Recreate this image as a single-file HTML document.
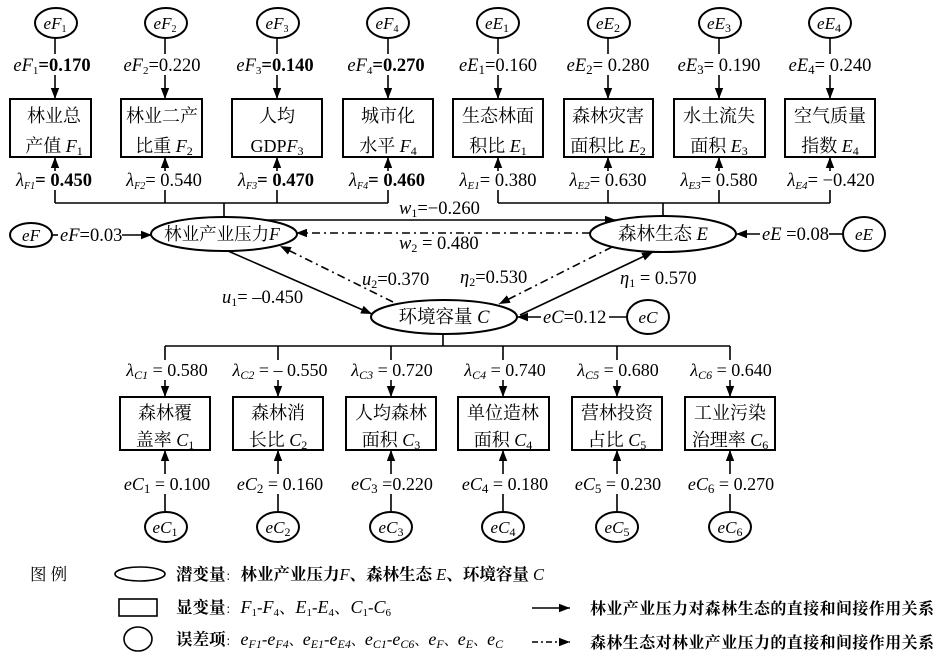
<!DOCTYPE html>
<html><head><meta charset="utf-8"><style>
html,body{margin:0;padding:0;background:#fff;}
svg{display:block;}
text{font-family:"Liberation Serif","Noto Serif CJK SC",serif;fill:#000;}
</style></head><body>
<svg width="941" height="653" viewBox="0 0 941 653" xmlns="http://www.w3.org/2000/svg">
<defs>
<marker id="a" markerUnits="userSpaceOnUse" markerWidth="12" markerHeight="10" refX="11" refY="5" orient="auto"><path d="M0,0.8 L11,5 L0,9.2 z" fill="#000"/></marker>
</defs>
<g stroke="#000" stroke-width="1.6" fill="none">
<line x1="55" y1="38" x2="55" y2="54"/><line x1="165" y1="38" x2="165" y2="54"/><line x1="277" y1="38" x2="277" y2="54"/><line x1="388" y1="38" x2="388" y2="54"/>
<line x1="498" y1="38" x2="498" y2="54"/><line x1="608" y1="38" x2="608" y2="54"/><line x1="719" y1="38" x2="719" y2="54"/><line x1="830" y1="38" x2="830" y2="54"/>
<g marker-end="url(#a)">
<line x1="55" y1="75" x2="55" y2="99"/><line x1="165" y1="75" x2="165" y2="99"/><line x1="277" y1="75" x2="277" y2="99"/><line x1="388" y1="75" x2="388" y2="99"/>
<line x1="498" y1="75" x2="498" y2="99"/><line x1="608" y1="75" x2="608" y2="99"/><line x1="719" y1="75" x2="719" y2="99"/><line x1="830" y1="75" x2="830" y2="99"/>
<line x1="55" y1="171" x2="55" y2="157"/><line x1="165" y1="171" x2="165" y2="157"/><line x1="277" y1="171" x2="277" y2="157"/><line x1="388" y1="171" x2="388" y2="157"/>
<line x1="498" y1="171" x2="498" y2="157"/><line x1="608" y1="171" x2="608" y2="157"/><line x1="719" y1="171" x2="719" y2="157"/><line x1="830" y1="171" x2="830" y2="157"/>
</g>
<path d="M55,190 V203 M165,190 V203 M277,190 V203 M388,190 V203 M55,203 H388 M224,203 V218"/>
<path d="M498,190 V203 M608,190 V203 M719,190 V203 M830,190 V203 M498,203 H830 M663,203 V217"/>
<line x1="266" y1="220" x2="616" y2="220" marker-end="url(#a)"/>
<line x1="590" y1="233" x2="296" y2="233" stroke-dasharray="8 4 2 4" marker-end="url(#a)"/>
<line x1="228" y1="251" x2="372" y2="314" marker-end="url(#a)"/>
<line x1="393" y1="302" x2="280" y2="246" stroke-dasharray="8 4 2 4" marker-end="url(#a)"/>
<line x1="612" y1="247" x2="499" y2="304" stroke-dasharray="8 4 2 4" marker-end="url(#a)"/>
<line x1="520" y1="315" x2="653" y2="252" marker-end="url(#a)"/>
<line x1="52" y1="235" x2="58" y2="235"/>
<line x1="122" y1="235" x2="152" y2="235" marker-end="url(#a)"/>
<line x1="760" y1="234" x2="736" y2="234" marker-end="url(#a)"/>
<line x1="829" y1="234" x2="843" y2="234"/>
<line x1="541" y1="317" x2="517" y2="317" marker-end="url(#a)"/>
<line x1="609" y1="317" x2="627" y2="317"/>
<path d="M443,333 V346 M165,346 H730 M165,346 V360 M278,346 V360 M391,346 V360 M503,346 V360 M617,346 V360 M730,346 V360"/>
<g marker-end="url(#a)">
<line x1="165" y1="380" x2="165" y2="397"/><line x1="278" y1="380" x2="278" y2="397"/><line x1="391" y1="380" x2="391" y2="397"/>
<line x1="503" y1="380" x2="503" y2="397"/><line x1="617" y1="380" x2="617" y2="397"/><line x1="730" y1="380" x2="730" y2="397"/>
<line x1="165" y1="474" x2="165" y2="450"/><line x1="278" y1="474" x2="278" y2="450"/><line x1="391" y1="474" x2="391" y2="450"/>
<line x1="503" y1="474" x2="503" y2="450"/><line x1="617" y1="474" x2="617" y2="450"/><line x1="730" y1="474" x2="730" y2="450"/>
</g>
<path d="M165,494 V512 M278,494 V512 M391,494 V512 M503,494 V512 M617,494 V512 M730,494 V512"/>
<line x1="532" y1="608" x2="570" y2="608" marker-end="url(#a)"/>
<line x1="532" y1="642" x2="570" y2="642" stroke-dasharray="6 3 2 3" marker-end="url(#a)"/>
</g>

<g stroke="#000" stroke-width="2" fill="#fff">
<ellipse cx="56" cy="23" rx="21" ry="15"/><ellipse cx="166" cy="23" rx="21" ry="15"/><ellipse cx="278" cy="23" rx="21" ry="15"/><ellipse cx="388" cy="23" rx="21" ry="15"/>
<ellipse cx="498" cy="23" rx="21" ry="15"/><ellipse cx="609" cy="23" rx="21" ry="15"/><ellipse cx="720" cy="23" rx="21" ry="15"/><ellipse cx="830" cy="23" rx="21" ry="15"/>
<rect x="10" y="99" width="81" height="58"/><rect x="121" y="99" width="81" height="58"/><rect x="232" y="99" width="90" height="58"/><rect x="343" y="99" width="90" height="58"/>
<rect x="453" y="99" width="90" height="58"/><rect x="564" y="99" width="89" height="58"/><rect x="674" y="99" width="91" height="58"/><rect x="785" y="99" width="90" height="58"/>
<ellipse cx="224" cy="234" rx="73" ry="17"/>
<ellipse cx="663" cy="234" rx="73" ry="18"/>
<ellipse cx="444" cy="317" rx="73" ry="17"/>
<ellipse cx="31" cy="235" rx="21" ry="12"/>
<ellipse cx="864" cy="234" rx="21" ry="17"/>
<ellipse cx="648" cy="317" rx="21" ry="17"/>
<rect x="120" y="397" width="90" height="53"/><rect x="233" y="397" width="90" height="53"/><rect x="346" y="397" width="90" height="53"/>
<rect x="458" y="397" width="91" height="53"/><rect x="572" y="397" width="90" height="53"/><rect x="685" y="397" width="90" height="53"/>
<ellipse cx="166" cy="527" rx="21" ry="15"/><ellipse cx="278" cy="527" rx="21" ry="15"/><ellipse cx="391" cy="527" rx="21" ry="15"/>
<ellipse cx="503" cy="527" rx="21" ry="15"/><ellipse cx="617" cy="527" rx="21" ry="15"/><ellipse cx="730" cy="527" rx="21" ry="15"/>
<ellipse cx="140" cy="574" rx="25" ry="7" stroke-width="1.6"/>
<rect x="119" y="599" width="38" height="17" stroke-width="1.6"/>
<ellipse cx="138" cy="639" rx="14" ry="12" stroke-width="1.6"/>
</g>

<g font-size="17" text-anchor="middle">
<text x="55" y="29"><tspan font-style="italic">eF</tspan><tspan font-size="10" dy="3">1</tspan></text>
<text x="165" y="29"><tspan font-style="italic">eF</tspan><tspan font-size="10" dy="3">2</tspan></text>
<text x="277" y="29"><tspan font-style="italic">eF</tspan><tspan font-size="10" dy="3">3</tspan></text>
<text x="387" y="29"><tspan font-style="italic">eF</tspan><tspan font-size="10" dy="3">4</tspan></text>
<text x="497" y="29"><tspan font-style="italic">eE</tspan><tspan font-size="12" dy="3">1</tspan></text>
<text x="608" y="29"><tspan font-style="italic">eE</tspan><tspan font-size="12" dy="3">2</tspan></text>
<text x="719" y="29"><tspan font-style="italic">eE</tspan><tspan font-size="12" dy="3">3</tspan></text>
<text x="829" y="29"><tspan font-style="italic">eE</tspan><tspan font-size="12" dy="3">4</tspan></text>
</g>
<g font-size="18.5" text-anchor="middle">
<text x="52" y="71"><tspan font-style="italic">eF</tspan><tspan font-size="11" dy="3">1</tspan><tspan dy="-3" font-weight="bold">=0.170</tspan></text>
<text x="162" y="71"><tspan font-style="italic">eF</tspan><tspan font-size="11" dy="3">2</tspan><tspan dy="-3">=0.220</tspan></text>
<text x="275" y="71"><tspan font-style="italic">eF</tspan><tspan font-size="11" dy="3">3</tspan><tspan dy="-3" font-weight="bold">=0.140</tspan></text>
<text x="386" y="71"><tspan font-style="italic">eF</tspan><tspan font-size="11" dy="3">4</tspan><tspan dy="-3" font-weight="bold">=0.270</tspan></text>
<text x="498" y="71"><tspan font-style="italic">eE</tspan><tspan font-size="13" dy="3">1</tspan><tspan dy="-3">=0.160</tspan></text>
<text x="608" y="71"><tspan font-style="italic">eE</tspan><tspan font-size="13" dy="3">2</tspan><tspan dy="-3">= 0.280</tspan></text>
<text x="719" y="71"><tspan font-style="italic">eE</tspan><tspan font-size="13" dy="3">3</tspan><tspan dy="-3">= 0.190</tspan></text>
<text x="830" y="71"><tspan font-style="italic">eE</tspan><tspan font-size="13" dy="3">4</tspan><tspan dy="-3">= 0.240</tspan></text>

<text x="54" y="186"><tspan font-style="italic">λ</tspan><tspan font-size="10" font-style="italic" dy="3">F1</tspan><tspan dy="-3" font-weight="bold">= 0.450</tspan></text>
<text x="164" y="186"><tspan font-style="italic">λ</tspan><tspan font-size="10" font-style="italic" dy="3">F2</tspan><tspan dy="-3">= 0.540</tspan></text>
<text x="276" y="186"><tspan font-style="italic">λ</tspan><tspan font-size="10" font-style="italic" dy="3">F3</tspan><tspan dy="-3" font-weight="bold">= 0.470</tspan></text>
<text x="387" y="186"><tspan font-style="italic">λ</tspan><tspan font-size="10" font-style="italic" dy="3">F4</tspan><tspan dy="-3" font-weight="bold">= 0.460</tspan></text>
<text x="498" y="186"><tspan font-style="italic">λ</tspan><tspan font-size="11" font-style="italic" dy="3">E1</tspan><tspan dy="-3">= 0.380</tspan></text>
<text x="608" y="186"><tspan font-style="italic">λ</tspan><tspan font-size="11" font-style="italic" dy="3">E2</tspan><tspan dy="-3">= 0.630</tspan></text>
<text x="719" y="186"><tspan font-style="italic">λ</tspan><tspan font-size="11" font-style="italic" dy="3">E3</tspan><tspan dy="-3">= 0.580</tspan></text>
<text x="831" y="186"><tspan font-style="italic">λ</tspan><tspan font-size="11" font-style="italic" dy="3">E4</tspan><tspan dy="-3">= −0.420</tspan></text>
</g>
<g font-size="18" text-anchor="middle">
<text x="54" y="122">林业总</text><text x="54" y="152">产值 <tspan font-style="italic">F</tspan><tspan font-size="12" dy="3">1</tspan></text>
<text x="162" y="122">林业二产</text><text x="164" y="152">比重 <tspan font-style="italic">F</tspan><tspan font-size="12" dy="3">2</tspan></text>
<text x="277" y="122">人均</text><text x="277" y="152">GDP<tspan font-style="italic">F</tspan><tspan font-size="12" dy="3">3</tspan></text>
<text x="388" y="122">城市化</text><text x="388" y="152">水平 <tspan font-style="italic">F</tspan><tspan font-size="12" dy="3">4</tspan></text>
<text x="498" y="122">生态林面</text><text x="498" y="152">积比 <tspan font-style="italic">E</tspan><tspan font-size="12" dy="3">1</tspan></text>
<text x="608" y="122">森林灾害</text><text x="608" y="152">面积比 <tspan font-style="italic">E</tspan><tspan font-size="12" dy="3">2</tspan></text>
<text x="719" y="122">水土流失</text><text x="719" y="152">面积 <tspan font-style="italic">E</tspan><tspan font-size="12" dy="3">3</tspan></text>
<text x="830" y="122">空气质量</text><text x="830" y="152">指数 <tspan font-style="italic">E</tspan><tspan font-size="12" dy="3">4</tspan></text>
</g>
<g font-size="18.5">
<text x="222" y="240" text-anchor="middle" font-size="17.5">林业产业压力<tspan font-style="italic">F</tspan></text>
<text x="663" y="240" text-anchor="middle">森林生态  <tspan font-style="italic">E</tspan></text>
<text x="444" y="323" text-anchor="middle">环境容量  <tspan font-style="italic">C</tspan></text>
<text x="31" y="241" text-anchor="middle" font-size="17" font-style="italic">eF</text>
<text x="864" y="240" text-anchor="middle" font-size="17" font-style="italic">eE</text>
<text x="648" y="323" text-anchor="middle" font-size="17" font-style="italic">eC</text>
<text x="60" y="241"><tspan font-style="italic">eF</tspan>=0.03</text>
<text x="762" y="240"><tspan font-style="italic">eE</tspan> =0.08</text>
<text x="543" y="323"><tspan font-style="italic">eC</tspan>=0.12</text>
<text x="399" y="214"><tspan font-style="italic">w</tspan><tspan font-size="12" dy="3">1</tspan><tspan dy="-3">=−0.260</tspan></text>
<text x="399" y="249"><tspan font-style="italic">w</tspan><tspan font-size="12" dy="3">2</tspan><tspan dy="-3"> = 0.480</tspan></text>
<text x="222" y="303"><tspan font-style="italic">u</tspan><tspan font-size="12" dy="3">1</tspan><tspan dy="-3">= –0.450</tspan></text>
<text x="362" y="285"><tspan font-style="italic">u</tspan><tspan font-size="12" dy="3">2</tspan><tspan dy="-3">=0.370</tspan></text>
<text x="460" y="283"><tspan font-style="italic">η</tspan><tspan font-size="12" dy="3">2</tspan><tspan dy="-3">=0.530</tspan></text>
<text x="620" y="284"><tspan font-style="italic">η</tspan><tspan font-size="12" dy="3">1</tspan><tspan dy="-3"> = 0.570</tspan></text>
</g>
<g font-size="18" text-anchor="middle">
<text x="167" y="376"><tspan font-style="italic">λ</tspan><tspan font-size="12" font-style="italic" dy="3">C1</tspan><tspan dy="-3"> = 0.580</tspan></text>
<text x="280" y="376"><tspan font-style="italic">λ</tspan><tspan font-size="12" font-style="italic" dy="3">C2</tspan><tspan dy="-3"> = – 0.550</tspan></text>
<text x="392" y="376"><tspan font-style="italic">λ</tspan><tspan font-size="12" font-style="italic" dy="3">C3</tspan><tspan dy="-3"> = 0.720</tspan></text>
<text x="505" y="376"><tspan font-style="italic">λ</tspan><tspan font-size="12" font-style="italic" dy="3">C4</tspan><tspan dy="-3"> = 0.740</tspan></text>
<text x="618" y="376"><tspan font-style="italic">λ</tspan><tspan font-size="12" font-style="italic" dy="3">C5</tspan><tspan dy="-3"> = 0.680</tspan></text>
<text x="731" y="376"><tspan font-style="italic">λ</tspan><tspan font-size="12" font-style="italic" dy="3">C6</tspan><tspan dy="-3"> = 0.640</tspan></text>

<text x="167" y="490"><tspan font-style="italic">eC</tspan><tspan font-size="13" dy="3">1</tspan><tspan dy="-3"> = 0.100</tspan></text>
<text x="280" y="490"><tspan font-style="italic">eC</tspan><tspan font-size="13" dy="3">2</tspan><tspan dy="-3"> = 0.160</tspan></text>
<text x="392" y="490"><tspan font-style="italic">eC</tspan><tspan font-size="13" dy="3">3</tspan><tspan dy="-3"> =0.220</tspan></text>
<text x="505" y="490"><tspan font-style="italic">eC</tspan><tspan font-size="13" dy="3">4</tspan><tspan dy="-3"> = 0.180</tspan></text>
<text x="618" y="490"><tspan font-style="italic">eC</tspan><tspan font-size="13" dy="3">5</tspan><tspan dy="-3"> = 0.230</tspan></text>
<text x="731" y="490"><tspan font-style="italic">eC</tspan><tspan font-size="13" dy="3">6</tspan><tspan dy="-3"> = 0.270</tspan></text>

<text x="165" y="419">森林覆</text><text x="165" y="446">盖率 <tspan font-style="italic">C</tspan><tspan font-size="12" dy="3">1</tspan></text>
<text x="278" y="419">森林消</text><text x="278" y="446">长比 <tspan font-style="italic">C</tspan><tspan font-size="12" dy="3">2</tspan></text>
<text x="391" y="419">人均森林</text><text x="391" y="446">面积 <tspan font-style="italic">C</tspan><tspan font-size="12" dy="3">3</tspan></text>
<text x="503" y="419">单位造林</text><text x="503" y="446">面积 <tspan font-style="italic">C</tspan><tspan font-size="12" dy="3">4</tspan></text>
<text x="617" y="419">营林投资</text><text x="617" y="446">占比 <tspan font-style="italic">C</tspan><tspan font-size="12" dy="3">5</tspan></text>
<text x="730" y="419">工业污染</text><text x="730" y="446">治理率 <tspan font-style="italic">C</tspan><tspan font-size="12" dy="3">6</tspan></text>

<text x="165" y="533" font-size="17"><tspan font-style="italic">eC</tspan><tspan font-size="12" dy="3">1</tspan></text>
<text x="278" y="533" font-size="17"><tspan font-style="italic">eC</tspan><tspan font-size="12" dy="3">2</tspan></text>
<text x="391" y="533" font-size="17"><tspan font-style="italic">eC</tspan><tspan font-size="12" dy="3">3</tspan></text>
<text x="503" y="533" font-size="17"><tspan font-style="italic">eC</tspan><tspan font-size="12" dy="3">4</tspan></text>
<text x="617" y="533" font-size="17"><tspan font-style="italic">eC</tspan><tspan font-size="12" dy="3">5</tspan></text>
<text x="730" y="533" font-size="17"><tspan font-style="italic">eC</tspan><tspan font-size="12" dy="3">6</tspan></text>
</g>
<g font-size="16.5">
<text x="30" y="580">图 例</text>
<text x="176" y="580" font-weight="bold">潜变量<tspan font-size="12" font-weight="normal">： </tspan>林业产业压力<tspan font-style="italic" font-weight="normal">F</tspan>、森林生态 <tspan font-style="italic" font-weight="normal">E</tspan>、环境容量 <tspan font-style="italic" font-weight="normal">C</tspan></text>
<text x="176" y="613"><tspan font-weight="bold">显变量</tspan><tspan font-size="12">： </tspan><tspan font-style="italic" font-size="18">F</tspan><tspan font-size="11" dy="3">1</tspan><tspan dy="-3">-</tspan><tspan font-style="italic" font-size="18">F</tspan><tspan font-size="11" dy="3">4</tspan><tspan dy="-3">、</tspan><tspan font-style="italic" font-size="18">E</tspan><tspan font-size="11" dy="3">1</tspan><tspan dy="-3">-</tspan><tspan font-style="italic" font-size="18">E</tspan><tspan font-size="11" dy="3">4</tspan><tspan dy="-3">、</tspan><tspan font-style="italic" font-size="18">C</tspan><tspan font-size="11" dy="3">1</tspan><tspan dy="-3">-</tspan><tspan font-style="italic" font-size="18">C</tspan><tspan font-size="11" dy="3">6</tspan></text>
<text x="176" y="645"><tspan font-weight="bold">误差项</tspan><tspan font-size="12">： </tspan><tspan font-style="italic" font-size="18">e</tspan><tspan font-size="12" font-style="italic" dy="3">F1</tspan><tspan dy="-3">-</tspan><tspan font-style="italic" font-size="18">e</tspan><tspan font-size="12" font-style="italic" dy="3">F4</tspan><tspan dy="-3" font-size="14">、</tspan><tspan font-style="italic" font-size="18">e</tspan><tspan font-size="12" font-style="italic" dy="3">E1</tspan><tspan dy="-3">-</tspan><tspan font-style="italic" font-size="18">e</tspan><tspan font-size="12" font-style="italic" dy="3">E4</tspan><tspan dy="-3" font-size="14">、</tspan><tspan font-style="italic" font-size="18">e</tspan><tspan font-size="12" font-style="italic" dy="3">C1</tspan><tspan dy="-3">-</tspan><tspan font-style="italic" font-size="18">e</tspan><tspan font-size="12" font-style="italic" dy="3">C6</tspan><tspan dy="-3" font-size="14">、</tspan><tspan font-style="italic" font-size="18">e</tspan><tspan font-size="12" font-style="italic" dy="3">F</tspan><tspan dy="-3" font-size="14">、</tspan><tspan font-style="italic" font-size="18">e</tspan><tspan font-size="12" font-style="italic" dy="3">E</tspan><tspan dy="-3" font-size="14">、</tspan><tspan font-style="italic" font-size="18">e</tspan><tspan font-size="12" font-style="italic" dy="3">C</tspan></text>
</g>
<g font-size="16">
<text x="590" y="614" letter-spacing="0.4" font-weight="bold">林业产业压力对森林生态的直接和间接作用关系</text>
<text x="590" y="648" letter-spacing="0.4" font-weight="bold">森林生态对林业产业压力的直接和间接作用关系</text>
</g>
</svg>
</body></html>
